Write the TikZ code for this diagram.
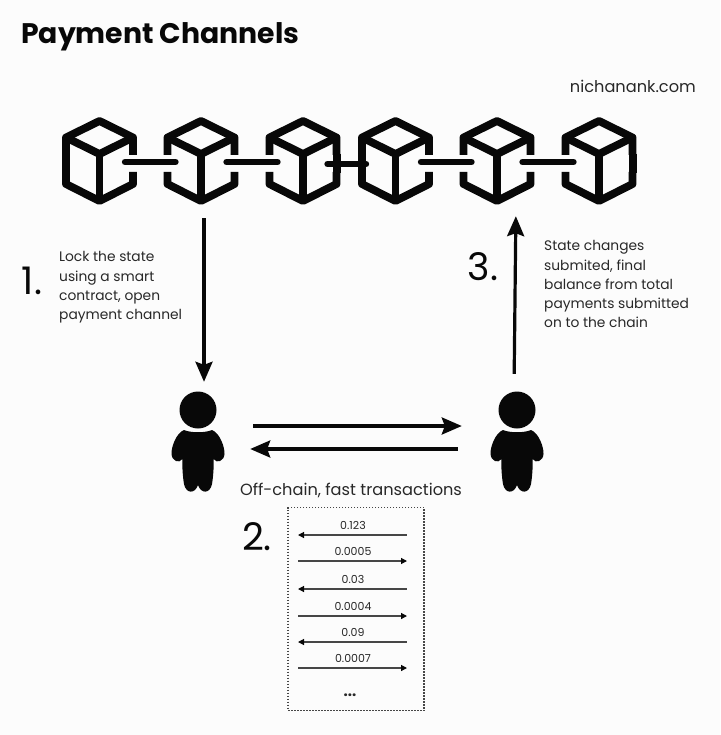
\documentclass[tikz,border=0pt]{standalone}
\usepackage{fontspec}
\setmainfont{Poppins}
\usetikzlibrary{arrows.meta,positioning}
\definecolor{paperwhite}{RGB}{252,252,252}
\definecolor{inkblack}{RGB}{8,8,8}
\definecolor{textgray}{RGB}{40,40,40}
\definecolor{ledgergray}{RGB}{70,70,70}

\begin{document}
\begin{tikzpicture}[
  x=1pt, y=-1pt,
  cubeline/.style={line width=7.8pt, draw=inkblack, line join=round},
  cubebox/.style={rectangle, minimum width=67pt, minimum height=82pt, inner sep=0pt},
  personbox/.style={rectangle, minimum width=54pt, minimum height=100pt, inner sep=0pt},
  chainlink/.style={line width=6.8pt, draw=inkblack, line cap=round},
  bigarr/.style={-{Stealth[length=20pt, width=17pt, inset=3pt]}, line width=3.2pt, draw=inkblack},
  txarr/.style={line width=1.2pt, draw=ledgergray},
  txtip/.style={{Stealth[length=6pt, width=6pt, inset=0pt, color=inkblack]}-},
  note/.style={font=\fontsize{13.8}{19.1}\selectfont, text=textgray, align=left, anchor=north west, inner sep=0pt},
  amount/.style={font=\fontsize{11}{12}\selectfont, text=textgray, inner sep=0pt},
  stepnum/.style={font=\fontsize{38}{40}\selectfont, text=inkblack, inner sep=0pt},
  cube/.pic={
    \draw[cubeline] (-33.5,-7) -- (-33.5,-24.5) -- (0,-41) -- (33.5,-24.5) -- (33.5,-7);
    \draw[cubeline] (-33.5,10) -- (-33.5,22) -- (0,39) -- (33.5,22) -- (33.5,10);
    \draw[cubeline] (-33.5,-24.5) -- (0,-8) -- (33.5,-24.5);
    \draw[cubeline] (0,-8) -- (0,39);
  },
  person/.pic={
    \fill[inkblack] (0,-32) circle (18.5);
    \fill[inkblack] (-14,-12) .. controls (-7,-9) and (7,-9) .. (14,-12)
      .. controls (22,-9) and (27,6) .. (26.5,12) .. controls (26,19) and (19,22) .. (15.5,17)
      .. controls (16,26) and (15,36) .. (14,42) .. controls (12,52) and (3,52) .. (0,43)
      .. controls (-3,52) and (-12,52) .. (-14,42) .. controls (-15,36) and (-16,26) .. (-15.5,17)
      .. controls (-19,22) and (-26,19) .. (-26.5,12) .. controls (-27,6) and (-22,-9) .. (-14,-12) -- cycle;
  },
]
\useasboundingbox[fill=paperwhite] (0,0) rectangle (720,735);

\node[font=\fontsize{28.3}{32}\selectfont\bfseries, text=inkblack, anchor=base west, inner sep=0pt]
  (title) at (21,44) {Payment Channels};
\node[font=\fontsize{16.2}{20}\selectfont, text=textgray, anchor=base east, inner sep=0pt]
  (site) at (696,92.5) {nichanank.com};

% the chain
\foreach \name/\x in {cubeA/99.5, cubeB/201, cubeC/303, cubeD/395.5, cubeE/497, cubeF/599}{
  \node[cubebox] (\name) at (\x,162) {};
  \pic at (\name) {cube};
}
\draw[chainlink, shorten <=-8pt, shorten >=-8pt] (cubeA.east) -- (cubeB.west);
\draw[chainlink, shorten <=-8pt, shorten >=-8pt] (cubeB.east) -- (cubeC.west);
\draw[chainlink, shorten <=-9pt, shorten >=-4pt, transform canvas={yshift=-2pt}] (cubeC.east) -- (cubeD.west);
\draw[chainlink, shorten <=-8pt, shorten >=-8pt] (cubeD.east) -- (cubeE.west);
\draw[chainlink, shorten <=-8pt, shorten >=-8pt] (cubeE.east) -- (cubeF.west);
% closed sides
\foreach \side in {cubeA.west, cubeC.east, cubeD.west, cubeF.east}{
  \draw[cubeline] ([yshift=8pt]\side) -- ([yshift=-11pt]\side);
}

\node[personbox] (sender)   at (198,442) {};
\node[personbox] (receiver) at (517,442) {};
\pic at (sender) {person};
\pic at (receiver) {person};

\draw[bigarr, shorten <=15pt, shorten >=10pt] ([xshift=3pt]cubeB.south) -- ([xshift=6pt]sender.north);
\draw[bigarr, shorten <=18pt, shorten >=13pt] ([xshift=-3pt]receiver.north) -- ([xshift=19pt]cubeE.south);
\draw[bigarr, shorten <=28pt, shorten >=28pt] ([yshift=16pt]sender.east) -- ([yshift=16pt]receiver.west);
\draw[bigarr, shorten <=32pt, shorten >=25pt] ([yshift=-7pt]receiver.west) -- ([yshift=-7pt]sender.east);

\node[stepnum] (stepone) at (32,281) {1.};
\node[note] (locknote) at (59,251.5) {Lock the state\\using a smart\\contract, open\\payment channel};
\node[stepnum] (stepthree) at (483,267) {3.};
\node[note] (statenote) at (544,240.5) {State changes\\submited, final\\balance from total\\payments submitted\\on to the chain};

\node[font=\fontsize{16.2}{20}\selectfont, text=textgray, inner sep=0pt] (offchain) at (351,490) {Off-chain, fast transactions};
\node[stepnum] (steptwo) at (257,537) {2.};

% ledger of payments
\node[rectangle, draw=ledgergray, dash pattern=on 1.5pt off 1.5pt, line width=1.3pt, minimum width=136pt,
      minimum height=203pt, inner sep=0pt] (ledger) at (356,609) {};
\foreach \i/\y/\val/\tip in {1/525/0.123/<, 2/551/0.0005/>, 3/579/0.03/<, 4/606/0.0004/>, 5/632/0.09/<, 6/658/0.0007/>}{
  \node[amount] (amt\i) at (353,\y) {\val};
  \coordinate (rowL\i) at (298,\y+10);
  \coordinate (rowR\i) at (407,\y+10);
  \if\tip<
    \draw[txarr, txtip] (rowL\i) -- (rowR\i);
  \else
    \draw[txarr, txtip] (rowR\i) -- (rowL\i);
  \fi
}
\node[font=\bfseries\fontsize{15}{15}\selectfont, text=textgray, inner sep=0pt] (more) at (350,695) {...};
\end{tikzpicture}
\end{document}
